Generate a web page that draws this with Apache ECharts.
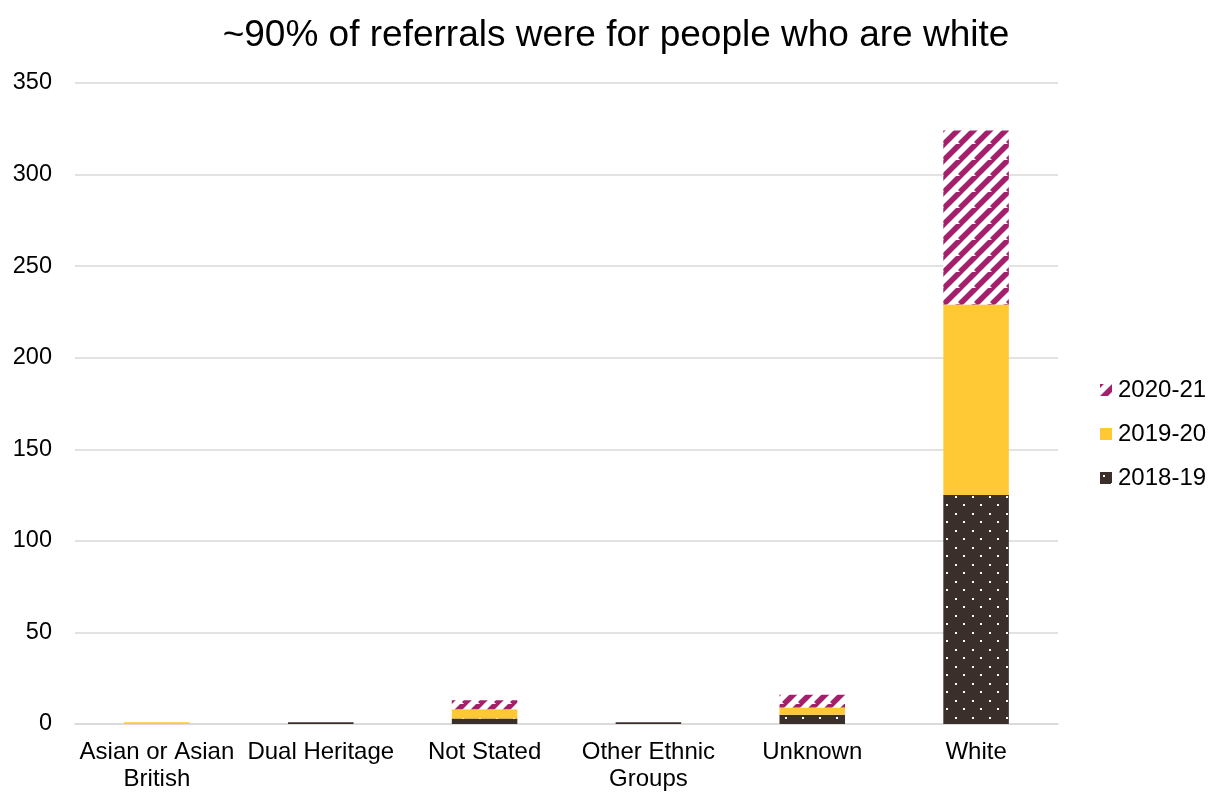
<!DOCTYPE html>
<html>
<head>
<meta charset="utf-8">
<script src="https://cdn.jsdelivr.net/npm/echarts@6/dist/echarts.min.js"></script>
<style>
html,body{margin:0;padding:0;background:#fff;}
#main{width:1208px;height:792px;}
</style>
</head>
<body>
<div id="main"></div>
<script>
const categories = ["Asian or Asian\nBritish", "Dual Heritage", "Not Stated", "Other Ethnic\nGroups", "Unknown", "White"];
const s2018 = [0, 1, 3, 1, 5, 125];
const s2019 = [1, 0, 5, 0, 4, 104];
const s2020 = [0, 0, 5, 0, 7, 95];
const yTicks = [0, 50, 100, 150, 200, 250, 300, 350];
const titleText = "~90% of referrals were for people who are white";

function stripePattern() {
  const c = document.createElement('canvas');
  c.width = 16; c.height = 16;
  const ctx = c.getContext('2d');
  ctx.fillStyle = '#ffffff';
  ctx.fillRect(0, 0, 16, 16);
  ctx.strokeStyle = '#A4206C';
  ctx.lineWidth = 5.5;
  for (let k = -16; k <= 32; k += 16) {
    ctx.beginPath();
    ctx.moveTo(k - 16, 16);
    ctx.lineTo(k + 16, -16);
    ctx.stroke();
  }
  return c;
}
function dotPattern() {
  const c = document.createElement('canvas');
  c.width = 17; c.height = 17;
  const ctx = c.getContext('2d');
  ctx.fillStyle = '#3B2F2C';
  ctx.fillRect(0, 0, 17, 17);
  ctx.fillStyle = '#ffffff';
  ctx.fillRect(3, 3, 2, 2);
  ctx.fillRect(11, 11, 2, 2);
  return c;
}

const chart = echarts.init(document.getElementById('main'), null, {renderer: 'canvas'});
const stripe = {image: stripePattern(), repeat: 'repeat'};
const dots = {image: dotPattern(), repeat: 'repeat'};
const FONT = 'Liberation Sans, Arial, sans-serif';

chart.setOption({
  animation: false,
  backgroundColor: '#ffffff',
  title: {
    text: titleText,
    left: 611, top: 12, textAlign: 'center',
    textStyle: {fontFamily: FONT, fontSize: 37, fontWeight: 'normal', color: '#000'}
  },
  legend: {
    orient: 'vertical',
    left: 1100, top: 378, padding: 0,
    itemWidth: 12, itemHeight: 12, itemGap: 20,
    icon: 'rect',
    data: ['2020-21', '2019-20', '2018-19'],
    textStyle: {fontFamily: FONT, fontSize: 24, color: '#000', padding: [0, 0, 0, 1]}
  },
  grid: {left: 75, right: 150, top: 83, bottom: 68, containLabel: false, outerBoundsMode: 'none'},
  xAxis: {
    type: 'category',
    data: categories,
    axisTick: {show: false},
    axisLine: {lineStyle: {color: '#d9d9d9', width: 1.5}},
    axisLabel: {fontFamily: FONT, fontSize: 24, color: '#000', lineHeight: 27, margin: 15, interval: 0}
  },
  yAxis: {
    type: 'value',
    min: 0, max: 350, interval: 50,
    axisLine: {show: false},
    axisTick: {show: false},
    splitLine: {lineStyle: {color: '#d9d9d9', width: 1.5}},
    axisLabel: {fontFamily: FONT, fontSize: 23.5, color: '#000', margin: 23,
      formatter: v => yTicks.includes(v) ? String(v) : ''}
  },
  series: [
    {name: '2018-19', type: 'bar', stack: 't', data: s2018, barWidth: '40%', itemStyle: {color: dots}},
    {name: '2019-20', type: 'bar', stack: 't', data: s2019, barWidth: '40%', itemStyle: {color: '#FFC936'}},
    {name: '2020-21', type: 'bar', stack: 't', data: s2020, barWidth: '40%', itemStyle: {color: stripe}}
  ]
});
</script>
</body>
</html>
